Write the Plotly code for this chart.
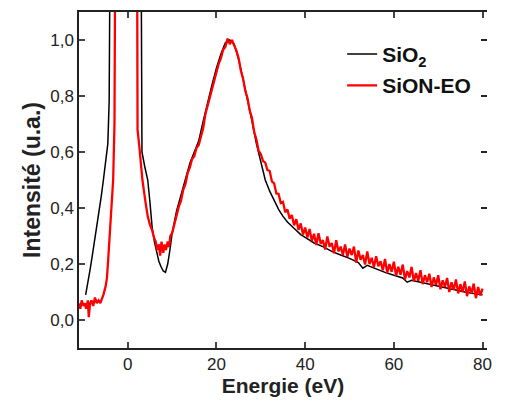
import plotly.graph_objects as go

# ---------------- data ----------------
sio2_energy = [-9.5, -9, -8.5, -8, -7.5, -7, -6.5, -6, -5.5, -5, -4.5, -4.2, -3.8, -3.5, -2.5, -1, 0, 1, 2,
               2.7, 3.0, 3.2, 3.8, 4.5, 5, 5.5, 6, 6.5, 7, 7.5, 8, 8.5, 9, 9.5, 10, 11, 12, 13, 14, 15, 16,
               17, 18, 19, 20, 21, 22, 23, 24, 25, 26, 27, 28, 29, 30, 31, 32, 33, 34, 35, 36, 37, 38, 39,
               40, 42, 44, 46, 48, 50, 52, 53, 54, 56, 58, 60, 62, 63, 64, 66, 68, 70, 72, 74, 76, 78, 80]
sio2_int = [0.09, 0.13, 0.18, 0.23, 0.28, 0.33, 0.38, 0.44, 0.50, 0.56, 0.63, 0.78, 1.3, 2.5, 6, 10, 12, 10, 6,
            2.5, 1.2, 0.60, 0.55, 0.50, 0.42, 0.33, 0.28, 0.24, 0.21, 0.19, 0.175, 0.17, 0.20, 0.25, 0.31,
            0.39, 0.45, 0.51, 0.56, 0.60, 0.64, 0.71, 0.78, 0.84, 0.90, 0.95, 0.99, 1.0, 0.985, 0.93, 0.86,
            0.79, 0.71, 0.63, 0.56, 0.50, 0.46, 0.425, 0.395, 0.37, 0.35, 0.335, 0.32, 0.305, 0.295, 0.275,
            0.262, 0.245, 0.232, 0.22, 0.205, 0.185, 0.195, 0.182, 0.17, 0.16, 0.15, 0.135, 0.142, 0.135,
            0.128, 0.12, 0.113, 0.107, 0.10, 0.095, 0.09]

sion_energy = [-11, -10.7, -10.4, -10, -9.7, -9.4, -9, -8.8, -8.5, -8.2, -7.8, -7.4, -7, -6.6, -6.2, -5.5, -5,
               -4.7, -4.4, -4, -3.6, -3.3, -3.0, -2.7, -2, -1, 0, 1, 1.7, 2.0, 2.2, 2.6, 3.3, 4, 4.5, 5,
               5.5, 6, 6.3, 6.6, 7, 7.3, 7.6, 8, 8.3, 8.6, 9, 9.3, 9.6,
               10, 10.5, 11, 11.5, 12, 12.5, 13, 13.5, 14, 14.5, 15, 15.5, 16, 16.5, 17, 17.5, 18, 18.5,
               19, 19.5, 20, 20.5, 21, 21.5, 22, 22.5, 23, 23.5, 24, 24.5, 25, 25.5, 26, 26.5, 27, 27.5,
               28, 28.5, 29, 29.5, 30, 30.5, 31, 31.5, 32, 32.5, 33, 33.5, 34, 34.5, 35, 35.5, 36, 36.5,
               37, 37.5, 38, 38.5, 39, 39.5, 40, 40.5, 41, 41.5, 42, 42.5, 43, 43.5, 44, 44.5, 45, 45.5,
               46, 46.5, 47, 47.5, 48, 48.5, 49, 49.5, 50, 50.5, 51, 51.5, 52, 52.5, 53, 53.5, 54, 54.5,
               55, 55.5, 56, 56.5, 57, 57.5, 58, 58.5, 59, 59.5, 60, 60.5, 61, 61.5, 62, 62.5, 63, 63.5,
               64, 64.5, 65, 65.5, 66, 66.5, 67, 67.5, 68, 68.5, 69, 69.5, 70, 70.5, 71, 71.5, 72, 72.5,
               73, 73.5, 74, 74.5, 75, 75.5, 76, 76.5, 77, 77.5, 78, 78.5, 79, 79.5, 80]
sion_int = [0.06, 0.04, 0.07, 0.05, 0.06, 0.04, 0.07, 0.01, 0.06, 0.07, 0.05, 0.08, 0.06, 0.07, 0.06, 0.09, 0.12,
            0.15, 0.22, 0.32, 0.42, 0.50, 0.70, 1.3, 4, 9, 12, 9, 4, 1.5, 0.68, 0.62, 0.50, 0.42, 0.37, 0.34,
            0.32, 0.29, 0.28, 0.25, 0.27, 0.23, 0.28, 0.24, 0.27, 0.25, 0.28, 0.26, 0.30,
            0.31, 0.345, 0.37, 0.405, 0.425, 0.465, 0.485, 0.525, 0.545, 0.575, 0.585, 0.615, 0.625, 0.655,
            0.685, 0.735, 0.765, 0.805, 0.825, 0.865, 0.885, 0.915, 0.935, 0.965, 0.975, 1.005, 0.985, 1.0,
            0.98, 0.962, 0.935, 0.89, 0.862, 0.818, 0.792, 0.748, 0.722, 0.672, 0.645, 0.605, 0.592, 0.568,
            0.562, 0.535, 0.532, 0.495, 0.488, 0.452, 0.45, 0.418, 0.422, 0.385, 0.395, 0.362, 0.375, 0.338,
            0.36, 0.322, 0.345, 0.305, 0.33, 0.295, 0.325, 0.282, 0.308, 0.268, 0.31, 0.272, 0.285, 0.252,
            0.298, 0.262, 0.275, 0.238, 0.285, 0.245, 0.262, 0.232, 0.27, 0.225, 0.255, 0.232, 0.262, 0.205,
            0.248, 0.215, 0.232, 0.198, 0.245, 0.20, 0.222, 0.188, 0.228, 0.192, 0.21, 0.178, 0.218, 0.168,
            0.20, 0.172, 0.208, 0.158, 0.19, 0.162, 0.198, 0.145, 0.175, 0.152, 0.19, 0.138, 0.168, 0.14,
            0.178, 0.128, 0.16, 0.135, 0.165, 0.118, 0.152, 0.125, 0.16, 0.11, 0.142, 0.118, 0.15, 0.10,
            0.135, 0.108, 0.145, 0.095, 0.128, 0.10, 0.138, 0.085, 0.12, 0.095, 0.13, 0.078, 0.118, 0.088,
            0.112]

series_names = ["SiO<sub>2</sub>", "SiON-EO"]
x_tickvals = [0, 20, 40, 60, 80]
y_tickvals = [0.0, 0.2, 0.4, 0.6, 0.8, 1.0]
y_ticktext = ["0,0", "0,2", "0,4", "0,6", "0,8", "1,0"]
x_title = "Energie (eV)"
y_title = "Intensité (u.a.)"

# ---------------- figure ----------------
fig = go.Figure()
fig.add_trace(go.Scatter(x=sio2_energy, y=sio2_int, mode="lines", name=series_names[0],
                         line=dict(color="black", width=1.5), legendgroup="a"))
fig.add_trace(go.Scatter(x=sion_energy, y=sion_int, mode="lines", name=series_names[1],
                         line=dict(color="#ff0000", width=2.3), legendgroup="b"))
fig.add_trace(go.Scatter(x=[None], y=[None], yaxis="y2", showlegend=False, hoverinfo="skip"))

font_fam = "Liberation Sans, Arial, sans-serif"
fig.update_layout(
    width=490, height=401,
    margin=dict(l=71, r=11, t=2, b=61),
    plot_bgcolor="white", paper_bgcolor="white",
    font=dict(family=font_fam, size=17, color="#222"),
    showlegend=True,
    legend=dict(x=0.645, y=0.935, xanchor="left", yanchor="top", bgcolor="rgba(0,0,0,0)",
                font=dict(size=21, color="#111", weight="bold"), tracegroupgap=1),
    xaxis=dict(range=[-11, 81], tickvals=x_tickvals, ticks="inside", ticklen=6, tickwidth=1.5,
               showline=True, linecolor="#222", linewidth=1.5, mirror="ticks", showgrid=False,
               zeroline=False, title=dict(text=x_title, font=dict(size=21, weight="bold"), standoff=0)),
    yaxis=dict(range=[-0.1, 1.1], tickvals=y_tickvals, ticktext=y_ticktext, ticks="inside", ticklen=6,
               tickwidth=1.5, showline=True, linecolor="#222", linewidth=1.5, showgrid=False,
               zeroline=False, title=dict(text=y_title, font=dict(size=23, weight="bold"), standoff=3)),
    yaxis2=dict(range=[-0.1, 1.1], overlaying="y", side="right", anchor="x", tickvals=y_tickvals,
                ticks="inside", ticklen=6, tickwidth=1.5, showticklabels=False, showline=False,
                showgrid=False, zeroline=False, tickcolor="#222"),
)

fig.write_html("out.html")
